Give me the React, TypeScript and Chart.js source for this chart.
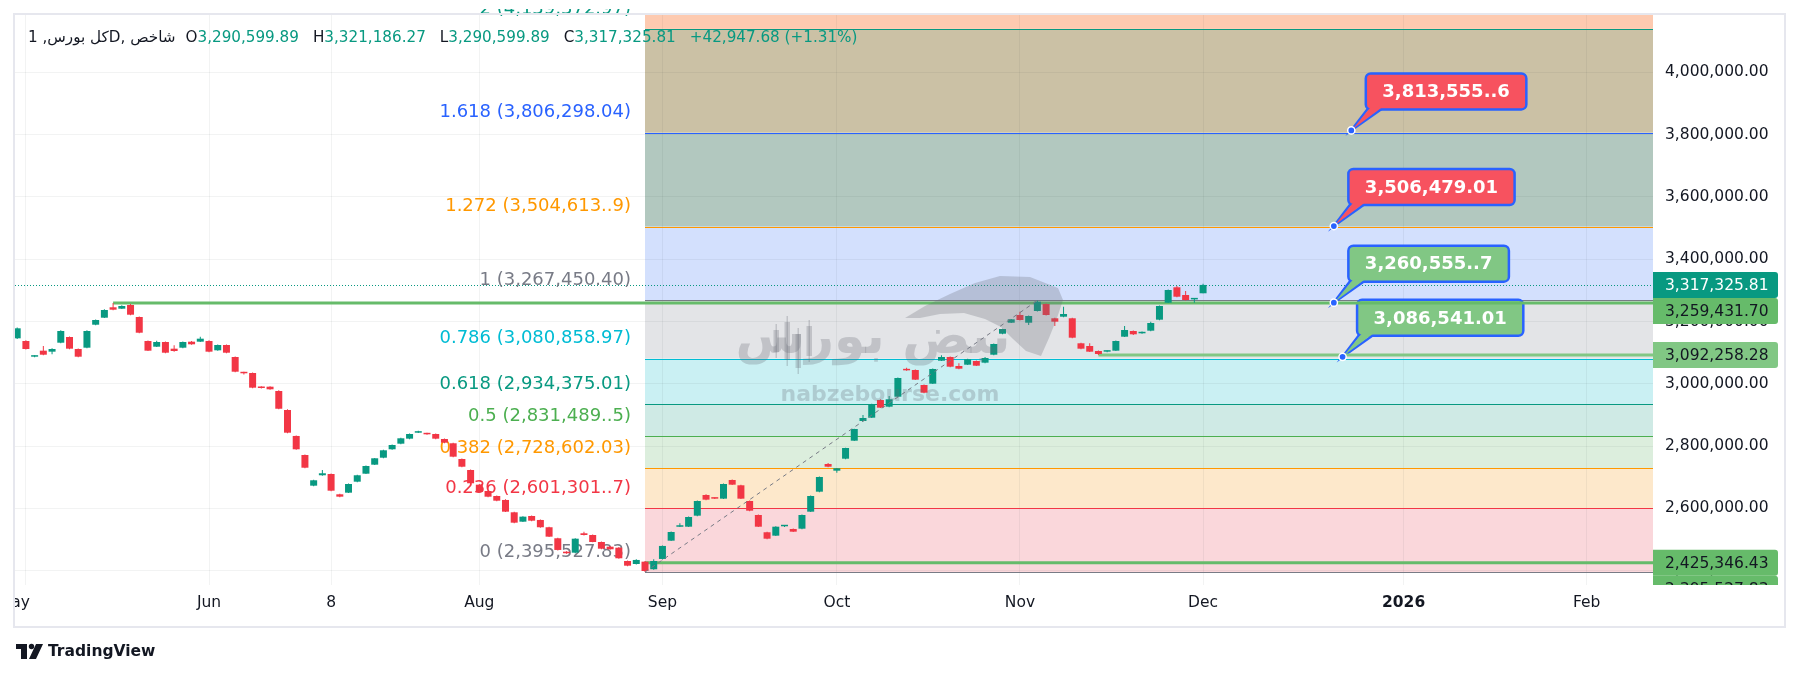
import React, { useEffect, useRef } from 'react';
import { Chart, registerables } from 'chart.js';

Chart.register(...registerables);

const FONT = '"DejaVu Sans", sans-serif';
const UP = '#089981';
const DOWN = '#f23645';
const TEXT = '#131722';

// ---- daily candles (index 0 = first visible session in May, 136 = last session, 1 Dec) ----
const OPEN = [
  3146000, 3137400, 3087000, 3106300, 3103100, 3131900, 3150200, 3111700, 3115900, 3189700,
  3212200, 3245600, 3241100, 3253000, 3214400, 3137400, 3119100, 3134200, 3112700, 3115900,
  3135200, 3135200, 3137400, 3107500, 3124600, 3086000, 3037900, 3034700, 2990700, 2990700,
  2976900, 2915900, 2832500, 2771400, 2672900, 2706300, 2710400, 2645200, 2650400, 2685700,
  2711400, 2740300, 2762700, 2789700, 2807700, 2823800, 2843000, 2842000, 2838800, 2822800,
  2809000, 2758600, 2723300, 2676100, 2655800, 2639800, 2627000, 2587400, 2557300, 2575600,
  2562800, 2539400, 2504000, 2461000, 2457800, 2520000, 2514600, 2492100, 2477000, 2473800,
  2431100, 2421500, 2428900, 2404500, 2437600, 2496300, 2541000, 2541200, 2576600, 2643000,
  2633400, 2631200, 2691200, 2674100, 2623700, 2578800, 2523300, 2512400, 2542500, 2533800,
  2534800, 2589400, 2653600, 2742500, 2721000, 2759500, 2817300, 2880600, 2891200, 2948000,
  2926500, 2958500, 3046600, 3044300, 2996100, 3000300, 3074100, 3086000, 3057100, 3061300,
  3073200, 3067800, 3093400, 3160800, 3196100, 3220900, 3196100, 3233700, 3256200, 3210300,
  3215400, 3210300, 3130000, 3121300, 3105300, 3103100, 3106300, 3151200, 3169500, 3162100,
  3170500, 3205800, 3260300, 3309800, 3285100, 3271000, 3290599.89,
];
const HIGH = [
  3181000, 3140000, 3092000, 3121000, 3114000, 3172000, 3152000, 3113000, 3172000, 3206000,
  3239000, 3259431.7, 3252000, 3256000, 3216000, 3139000, 3138000, 3136000, 3124000, 3136000,
  3137000, 3151000, 3140000, 3126000, 3126000, 3088000, 3039000, 3036000, 2992000, 2992000,
  2979000, 2918000, 2834000, 2773000, 2692000, 2723000, 2712000, 2647000, 2680000, 2708000,
  2738000, 2762000, 2788000, 2805000, 2827000, 2840000, 2849000, 2843000, 2840000, 2824000,
  2811000, 2760000, 2725000, 2678000, 2657000, 2641000, 2629000, 2589000, 2575000, 2577000,
  2564000, 2541000, 2506000, 2462000, 2504000, 2525000, 2516000, 2494000, 2479000, 2476000,
  2433000, 2437000, 2431000, 2437000, 2481000, 2526000, 2552000, 2574000, 2625000, 2645000,
  2635000, 2680000, 2693000, 2676000, 2625000, 2580000, 2525000, 2543000, 2547000, 2535000,
  2580000, 2641000, 2702000, 2745700, 2730000, 2795000, 2856000, 2899800, 2936000, 2950000,
  2961000, 3020000, 3051700, 3046000, 2998000, 3049000, 3092000, 3088000, 3065800, 3080000,
  3075000, 3086000, 3129000, 3177000, 3208000, 3231500, 3219000, 3267450.4, 3258000, 3212000,
  3247500, 3212000, 3132000, 3130000, 3107000, 3107000, 3139000, 3185600, 3171000, 3168000,
  3199400, 3251000, 3303000, 3314000, 3298000, 3274500, 3321186.27,
];
const LOW = [
  3144000, 3110000, 3085000, 3092000, 3095000, 3130000, 3111000, 3085000, 3114000, 3188000,
  3211000, 3236000, 3240000, 3220000, 3162000, 3105000, 3118000, 3098000, 3103000, 3114000,
  3125000, 3134000, 3101000, 3106000, 3098000, 3037000, 3030000, 2986000, 2985000, 2981000,
  2918000, 2841000, 2788000, 2729000, 2671000, 2705000, 2655000, 2636000, 2649000, 2684000,
  2710000, 2739000, 2761000, 2788000, 2806000, 2822000, 2842000, 2836000, 2822000, 2809000,
  2764000, 2732000, 2679000, 2651000, 2636000, 2623000, 2588000, 2552000, 2556000, 2559000,
  2538000, 2508000, 2465000, 2454000, 2456000, 2513000, 2491000, 2469000, 2467000, 2438000,
  2414000, 2420000, 2395527.83, 2403000, 2436000, 2495000, 2540000, 2540000, 2575000, 2626000,
  2630000, 2630000, 2675000, 2630000, 2591000, 2540000, 2501000, 2511000, 2540000, 2524000,
  2533000, 2588000, 2652000, 2732000, 2714600, 2758000, 2816000, 2879000, 2890000, 2922000,
  2925000, 2957000, 3042000, 3012000, 2970000, 2999000, 3073000, 3053000, 3047000, 3060000,
  3057000, 3066000, 3092000, 3159000, 3195000, 3203000, 3188700, 3232000, 3219000, 3185600,
  3214000, 3146000, 3111000, 3102000, 3092258.28, 3101000, 3105000, 3150000, 3157000, 3161000,
  3169000, 3204000, 3259000, 3278000, 3267000, 3260555.7, 3290599.89,
];
const CLOSE = [
  3178100, 3111700, 3091500, 3093400, 3111700, 3169500, 3112700, 3087000, 3169500, 3204800,
  3236900, 3237900, 3249700, 3221800, 3164000, 3106300, 3134200, 3099800, 3105300, 3134200,
  3126800, 3144800, 3103100, 3124600, 3099800, 3038800, 3033700, 2987500, 2986500, 2982300,
  2919900, 2843000, 2789700, 2730600, 2690200, 2712700, 2656800, 2637600, 2678300, 2706300,
  2736100, 2760800, 2786500, 2803500, 2825000, 2838800, 2846200, 2837800, 2823800, 2810900,
  2766000, 2733800, 2680600, 2652600, 2637500, 2624700, 2589400, 2554100, 2573400, 2560500,
  2539400, 2509200, 2466500, 2455900, 2502700, 2514600, 2492100, 2470600, 2468700, 2439800,
  2416000, 2434400, 2399000, 2431100, 2479400, 2524200, 2543500, 2572400, 2623700, 2628000,
  2631200, 2678300, 2676100, 2631200, 2592600, 2541200, 2502700, 2541200, 2545800, 2525200,
  2578800, 2639800, 2700800, 2733800, 2728700, 2793900, 2854900, 2890200, 2934200, 2923300,
  2950300, 3018600, 3043200, 3013200, 2971400, 3047500, 3086000, 3054900, 3048500, 3078600,
  3058100, 3082800, 3127800, 3175900, 3207000, 3204800, 3217700, 3263600, 3220900, 3199400,
  3224100, 3148000, 3112700, 3103100, 3095700, 3105300, 3137400, 3172700, 3158900, 3166300,
  3195200, 3249700, 3301100, 3279600, 3269000, 3274378.13, 3317325.81,
];

// ---- axes ----
const X_MIN = -0.25;
const X_MAX = 187.6;
const Y_MIN = 2354000;
const Y_MAX = 4184000;
const Y_TICKS = [2400000, 2600000, 2800000, 3000000, 3200000, 3400000, 3600000, 3800000, 4000000];
const X_TICK_POS = [1, 22, 36, 53, 74, 94, 115, 136, 159, 180];
const X_TICK_LABELS = ['May', 'Jun', '8', 'Aug', 'Sep', 'Oct', 'Nov', 'Dec', '2026', 'Feb'];

// ---- fibonacci retracement ----
const FIB_START = 72;
const FIB_PRICES = [2395527.83, 2601301.7, 2728602.03, 2831489.5, 2934375.01, 3080858.97, 3267450.4, 3504613.9, 3806298.04, 4139372.97];
const FIB_TEXT = ['0 (2,395,527.83)', '0.236 (2,601,301..7)', '0.382 (2,728,602.03)', '0.5 (2,831,489..5)', '0.618 (2,934,375.01)', '0.786 (3,080,858.97)', '1 (3,267,450.40)', '1.272 (3,504,613..9)', '1.618 (3,806,298.04)', '2 (4,139,372.97)'];
const FIB_LINE_COLORS = ['#787b86', '#f23645', '#ff9800', '#4caf50', '#089981', '#00bcd4', '#787b86', '#ff9800', '#2962ff', '#089981'];
const FIB_ZONE_COLORS = ['#fad7db', '#fde8cb', '#dceedd', '#cfeae5', '#caf0f3', '#e3e4e7', '#d3e0fd', '#b2c8bf', '#cbc1a5', '#fdcab0'];

// trend line of the fib tool
const TREND_X = [72, 117];
const TREND_Y = [2395527.83, 3267450.4];

// horizontal user lines
const HLINE_PRICES = [3259431.7, 3092258.28, 2425346.43];
const HLINE_START = [11, 124, 72];
const HLINE_COLORS = ['#66bb6a', '#81c784', '#66bb6a'];

// last price
const LAST_PRICE = 3317325.81;

// price-axis labels
const AXIS_BOX_VALUES = [3317325.81, 3259431.7, 3092258.28, 2425346.43, 2395527.83];
const AXIS_BOX_TEXT = ['3,317,325.81', '3,259,431.70', '3,092,258.28', '2,425,346.43', '2,395,527.83'];
const AXIS_BOX_BG = ['#089981', '#66bb6a', '#81c784', '#66bb6a', '#66bb6a'];
const AXIS_BOX_FG = ['#ffffff', '#131722', '#131722', '#131722', '#131722'];

// callouts
const CALLOUT_X = [153, 151, 151, 152];
const CALLOUT_Y = [3813555.6, 3506479.01, 3260555.7, 3086541.01];
const CALLOUT_TEXT = ['3,813,555..6', '3,506,479.01', '3,260,555..7', '3,086,541.01'];
const CALLOUT_BG = ['#f7525f', '#f7525f', '#81c784', '#81c784'];

// legend
const TITLE = 'کل بورس, 1D, شاخص';
const OHLC_KEYS = ['O', 'H', 'L', 'C'];
const OHLC_VALUES = ['3,290,599.89', '3,321,186.27', '3,290,599.89', '3,317,325.81'];
const CHANGE_TEXT = '+42,947.68 (+1.31%)';

const fmt = (v: number) => v.toLocaleString('en-US', { minimumFractionDigits: 2, maximumFractionDigits: 2 });

export default function App() {
  const ref = useRef<HTMLCanvasElement>(null);

  useEffect(() => {
    const canvas = ref.current;
    if (!canvas) return;
    document.body.style.margin = '0';

    const idx = OPEN.map((_, i) => i);
    const colors = idx.map((i) => (CLOSE[i] >= OPEN[i] ? UP : DOWN));

    const px = (chart: any, v: number) => chart.scales.x.getPixelForValue(v);
    const py = (chart: any, v: number) => chart.scales.y.getPixelForValue(v);

    const zonesPlugin = {
      id: 'zones',
      beforeDraw(chart: any) {
        const { ctx, chartArea: a } = chart;
        ctx.save();
        ctx.fillStyle = '#ffffff';
        ctx.fillRect(0, 0, chart.width, chart.height);
        ctx.beginPath();
        ctx.rect(a.left, a.top, a.right - a.left, a.bottom - a.top);
        ctx.clip();
        const x0 = px(chart, FIB_START);
        for (let i = 0; i < FIB_PRICES.length; i++) {
          const yb = py(chart, FIB_PRICES[i]);
          const yt = i + 1 < FIB_PRICES.length ? py(chart, FIB_PRICES[i + 1]) : a.top;
          ctx.fillStyle = FIB_ZONE_COLORS[i];
          ctx.fillRect(x0, yt, a.right - x0, yb - yt);
        }
        ctx.restore();
      },
      beforeDatasetsDraw(chart: any) {
        const { ctx, chartArea: a } = chart;
        const x0 = px(chart, FIB_START);
        ctx.save();
        ctx.beginPath();
        ctx.rect(a.left, a.top, a.right - a.left, a.bottom - a.top);
        ctx.clip();
        for (let i = 0; i < FIB_PRICES.length; i++) {
          const y = Math.round(py(chart, FIB_PRICES[i])) + 0.5;
          ctx.strokeStyle = FIB_LINE_COLORS[i];
          ctx.lineWidth = 1;
          ctx.beginPath();
          ctx.moveTo(x0, y);
          ctx.lineTo(a.right, y);
          ctx.stroke();
        }
        // last price dotted line
        const yl = Math.round(py(chart, LAST_PRICE)) + 0.5;
        ctx.strokeStyle = UP;
        ctx.setLineDash([1, 2]);
        ctx.beginPath();
        ctx.moveTo(a.left, yl);
        ctx.lineTo(a.right, yl);
        ctx.stroke();
        ctx.setLineDash([]);
        ctx.restore();

        // level labels
        ctx.save();
        ctx.beginPath();
        ctx.rect(a.left, 9, a.right - a.left, a.bottom - 9);
        ctx.clip();
        ctx.font = '18px ' + FONT;
        ctx.textAlign = 'right';
        ctx.textBaseline = 'middle';
        for (let i = 0; i < FIB_PRICES.length; i++) {
          ctx.fillStyle = FIB_LINE_COLORS[i];
          ctx.fillText(FIB_TEXT[i], x0 - 14, py(chart, FIB_PRICES[i]) - 20);
        }
        ctx.restore();

        // callouts
        ctx.save();
        ctx.font = 'bold 18px ' + FONT;
        ctx.textAlign = 'center';
        ctx.textBaseline = 'middle';
        for (let i = 0; i < CALLOUT_X.length; i++) {
          const dx = px(chart, CALLOUT_X[i]);
          const dy = py(chart, CALLOUT_Y[i]);
          const tw = ctx.measureText(CALLOUT_TEXT[i]).width;
          const bl = dx + 14.5;
          const bb = dy - 21;
          const bh = 36;
          const bw = tw + 33;
          const bt = bb - bh;
          ctx.beginPath();
          ctx.moveTo(bl + 3, bb - 2);
          ctx.lineTo(dx, dy);
          ctx.lineTo(bl + 18, bb - 2);
          ctx.closePath();
          ctx.strokeStyle = '#2962ff';
          ctx.lineWidth = 2.5;
          ctx.stroke();
          ctx.beginPath();
          ctx.roundRect(bl, bt, bw, bh, 5);
          ctx.fillStyle = CALLOUT_BG[i];
          ctx.fill();
          ctx.lineWidth = 2.5;
          ctx.stroke();
          ctx.beginPath();
          ctx.moveTo(bl + 4.5, bb - 2);
          ctx.lineTo(dx + 1.5, dy - 1.5);
          ctx.lineTo(bl + 16, bb - 2);
          ctx.closePath();
          ctx.fill();
          ctx.fillStyle = '#ffffff';
          ctx.fillText(CALLOUT_TEXT[i], bl + bw / 2, bt + bh / 2 + 1);
        }
        ctx.restore();
      },
      afterDatasetsDraw(chart: any) {
        const { ctx, chartArea: a } = chart;
        ctx.save();
        ctx.beginPath();
        ctx.rect(a.left, a.top, a.right - a.left, a.bottom - a.top);
        ctx.clip();
        ctx.fillStyle = 'rgba(105,108,118,0.28)';
        // bull silhouette
        const bull = [[905, 318], [925, 306], [950, 294], [975, 283], [1000, 276], [1030, 277], [1058, 288], [1063, 300], [1057, 318], [1049, 338], [1041, 356], [1026, 351], [1013, 339], [1001, 327], [985, 319], [964, 313], [940, 314], [920, 318]];
        ctx.beginPath();
        bull.forEach((p, i) => (i ? ctx.lineTo(p[0], p[1]) : ctx.moveTo(p[0], p[1])));
        ctx.closePath();
        ctx.fill();
        // arabic logotype
        ctx.font = 'bold 60px ' + FONT;
        const w = ctx.measureText('نبض بورس').width;
        const fs = Math.min(90, (60 * 275) / w);
        ctx.font = 'bold ' + fs.toFixed(1) + 'px ' + FONT;
        ctx.textAlign = 'center';
        ctx.textBaseline = 'middle';
        ctx.fillText('نبض بورس', 873, 340);
        const cx = [776, 787, 798, 809];
        const ct = [330, 322, 334, 326];
        const cb = [352, 360, 368, 356];
        for (let i = 0; i < cx.length; i++) {
          ctx.fillRect(cx[i] - 0.5, ct[i] - 6, 1.5, cb[i] - ct[i] + 12);
          ctx.fillRect(cx[i] - 2.5, ct[i], 5.5, cb[i] - ct[i]);
        }
        ctx.font = 'bold 22px ' + FONT;
        ctx.fillText('nabzebourse.com', 890, 395);
        ctx.restore();
      },
      afterDraw(chart: any) {
        const { ctx, chartArea: a } = chart;
        // legend header
        ctx.save();
        ctx.font = '15.2px ' + FONT;
        ctx.textBaseline = 'middle';
        ctx.textAlign = 'left';
        ctx.direction = 'ltr';
        let x = 28;
        const y = 38;
        ctx.fillStyle = TEXT;
        ctx.fillText(TITLE, x, y);
        x += ctx.measureText(TITLE).width + 10;
        for (let i = 0; i < OHLC_KEYS.length; i++) {
          ctx.fillStyle = TEXT;
          ctx.fillText(OHLC_KEYS[i], x, y);
          x += ctx.measureText(OHLC_KEYS[i]).width;
          ctx.fillStyle = UP;
          ctx.fillText(OHLC_VALUES[i], x, y);
          x += ctx.measureText(OHLC_VALUES[i]).width + 14;
        }
        ctx.fillStyle = UP;
        ctx.fillText(CHANGE_TEXT, x, y);
        ctx.restore();

        // price axis labels
        ctx.save();
        ctx.beginPath();
        ctx.rect(a.right, a.top, chart.width - a.right, a.bottom - a.top);
        ctx.clip();
        const order = AXIS_BOX_VALUES.map((v, i) => ({ i, y: py(chart, v) })).sort((p, q) => p.y - q.y);
        let prev = -1e9;
        const H = 26;
        ctx.textBaseline = 'middle';
        ctx.textAlign = 'left';
        order.forEach(({ i, y: yy }) => {
          const c = Math.max(yy, prev + H);
          prev = c;
          ctx.fillStyle = AXIS_BOX_BG[i];
          ctx.beginPath();
          ctx.roundRect(a.right, c - H / 2, 125, H, [0, 3, 3, 0]);
          ctx.fill();
          ctx.fillStyle = AXIS_BOX_FG[i];
          ctx.font = '15.5px ' + FONT;
          ctx.fillText(AXIS_BOX_TEXT[i], a.right + 12, c + 1);
        });
        ctx.restore();

        // clipped first month label
        ctx.save();
        ctx.beginPath();
        ctx.rect(15, a.bottom, 200, 40);
        ctx.clip();
        ctx.font = '15.5px ' + FONT;
        ctx.fillStyle = TEXT;
        ctx.textAlign = 'center';
        ctx.textBaseline = 'middle';
        ctx.fillText(X_TICK_LABELS[0], 14, 603);
        ctx.restore();

        // widget border
        ctx.save();
        ctx.strokeStyle = '#e6e7ee';
        ctx.lineWidth = 2;
        ctx.strokeRect(14, 14, 1771, 613);
        ctx.restore();

        // TradingView logo
        ctx.save();
        ctx.fillStyle = TEXT;
        ctx.fillRect(16, 644, 11, 5);
        ctx.fillRect(21, 644, 6, 15);
        ctx.beginPath();
        ctx.arc(31.5, 646.5, 2.7, 0, Math.PI * 2);
        ctx.fill();
        ctx.beginPath();
        ctx.moveTo(36, 644);
        ctx.lineTo(43, 644);
        ctx.lineTo(36, 659);
        ctx.lineTo(29, 659);
        ctx.closePath();
        ctx.fill();
        ctx.font = 'bold 15.5px ' + FONT;
        ctx.textBaseline = 'middle';
        ctx.fillText('TradingView', 48, 652);
        ctx.restore();
      },
    };

    const chart = new Chart(canvas, {
      type: 'bar',
      data: {
        datasets: [
          {
            type: 'scatter',
            data: CALLOUT_X.map((v, i) => ({ x: v, y: CALLOUT_Y[i] })),
            pointRadius: 3.6,
            pointBackgroundColor: '#2962ff',
            pointBorderColor: '#ffffff',
            pointBorderWidth: 1.5,
            order: 0,
          } as any,
          {
            type: 'line',
            data: TREND_X.map((v, i) => ({ x: v, y: TREND_Y[i] })),
            borderColor: '#787b86',
            borderWidth: 1,
            borderDash: [4, 4],
            pointRadius: 0,
            order: 1,
          } as any,
          {
            type: 'bar',
            data: idx.map((i) => ({ x: i, y: [Math.min(OPEN[i], CLOSE[i]), Math.max(OPEN[i], CLOSE[i])] })),
            backgroundColor: colors,
            barThickness: 7,
            minBarLength: 1.5,
            grouped: false,
            inflateAmount: 0,
            borderWidth: 0,
            order: 2,
          } as any,
          {
            type: 'bar',
            data: idx.map((i) => ({ x: i, y: [LOW[i], HIGH[i]] })),
            backgroundColor: colors,
            barThickness: 1,
            minBarLength: 1,
            grouped: false,
            inflateAmount: 0,
            borderWidth: 0,
            order: 3,
          } as any,
          ...HLINE_PRICES.map((v, i) => ({
            type: 'line',
            data: [{ x: HLINE_START[i], y: v }, { x: X_MAX, y: v }],
            borderColor: HLINE_COLORS[i],
            borderWidth: 3,
            pointRadius: 0,
            order: 4,
          })) as any,
        ],
      },
      options: {
        animation: false,
        responsive: false,
        devicePixelRatio: 1,
        events: [],
        layout: { padding: { left: 15, top: 15, right: 0, bottom: 0 } },
        plugins: { legend: { display: false }, tooltip: { enabled: false } },
        scales: {
          x: {
            type: 'linear',
            min: X_MIN,
            max: X_MAX,
            offset: false,
            afterFit: (s: any) => { s.height = 92; s.paddingLeft = 0; s.paddingRight = 0; },
            afterBuildTicks: (s: any) => { s.ticks = X_TICK_POS.map((v) => ({ value: v })); },
            grid: { color: 'rgba(42,46,57,0.06)', drawTicks: false, offset: false },
            border: { display: false },
            ticks: {
              autoSkip: false,
              maxRotation: 0,
              padding: 9,
              color: TEXT,
              font: (c: any) => ({ family: 'DejaVu Sans', size: 15.5, weight: c.index === 8 ? 'bold' : 'normal' }),
              callback: (_v: any, i: number) => (i === 0 ? '' : X_TICK_LABELS[i]),
            },
          },
          y: {
            type: 'linear',
            position: 'right',
            min: Y_MIN,
            max: Y_MAX,
            afterFit: (s: any) => { s.width = 147; s.paddingTop = 0; s.paddingBottom = 0; },
            afterBuildTicks: (s: any) => { s.ticks = Y_TICKS.map((v) => ({ value: v })); },
            grid: { color: 'rgba(42,46,57,0.06)', drawTicks: false },
            border: { display: false },
            ticks: {
              padding: 12,
              color: TEXT,
              font: { family: 'DejaVu Sans', size: 15.5 },
              callback: (v: any) => fmt(Number(v)),
            },
          },
        },
      } as any,
      plugins: [zonesPlugin],
    });

    return () => chart.destroy();
  }, []);

  return (
    <div style={{ position: 'fixed', left: 0, top: 0, width: 1800, height: 677, background: '#fff' }}>
      <canvas ref={ref} width={1800} height={677} style={{ display: 'block', width: 1800, height: 677 }} />
    </div>
  );
}
